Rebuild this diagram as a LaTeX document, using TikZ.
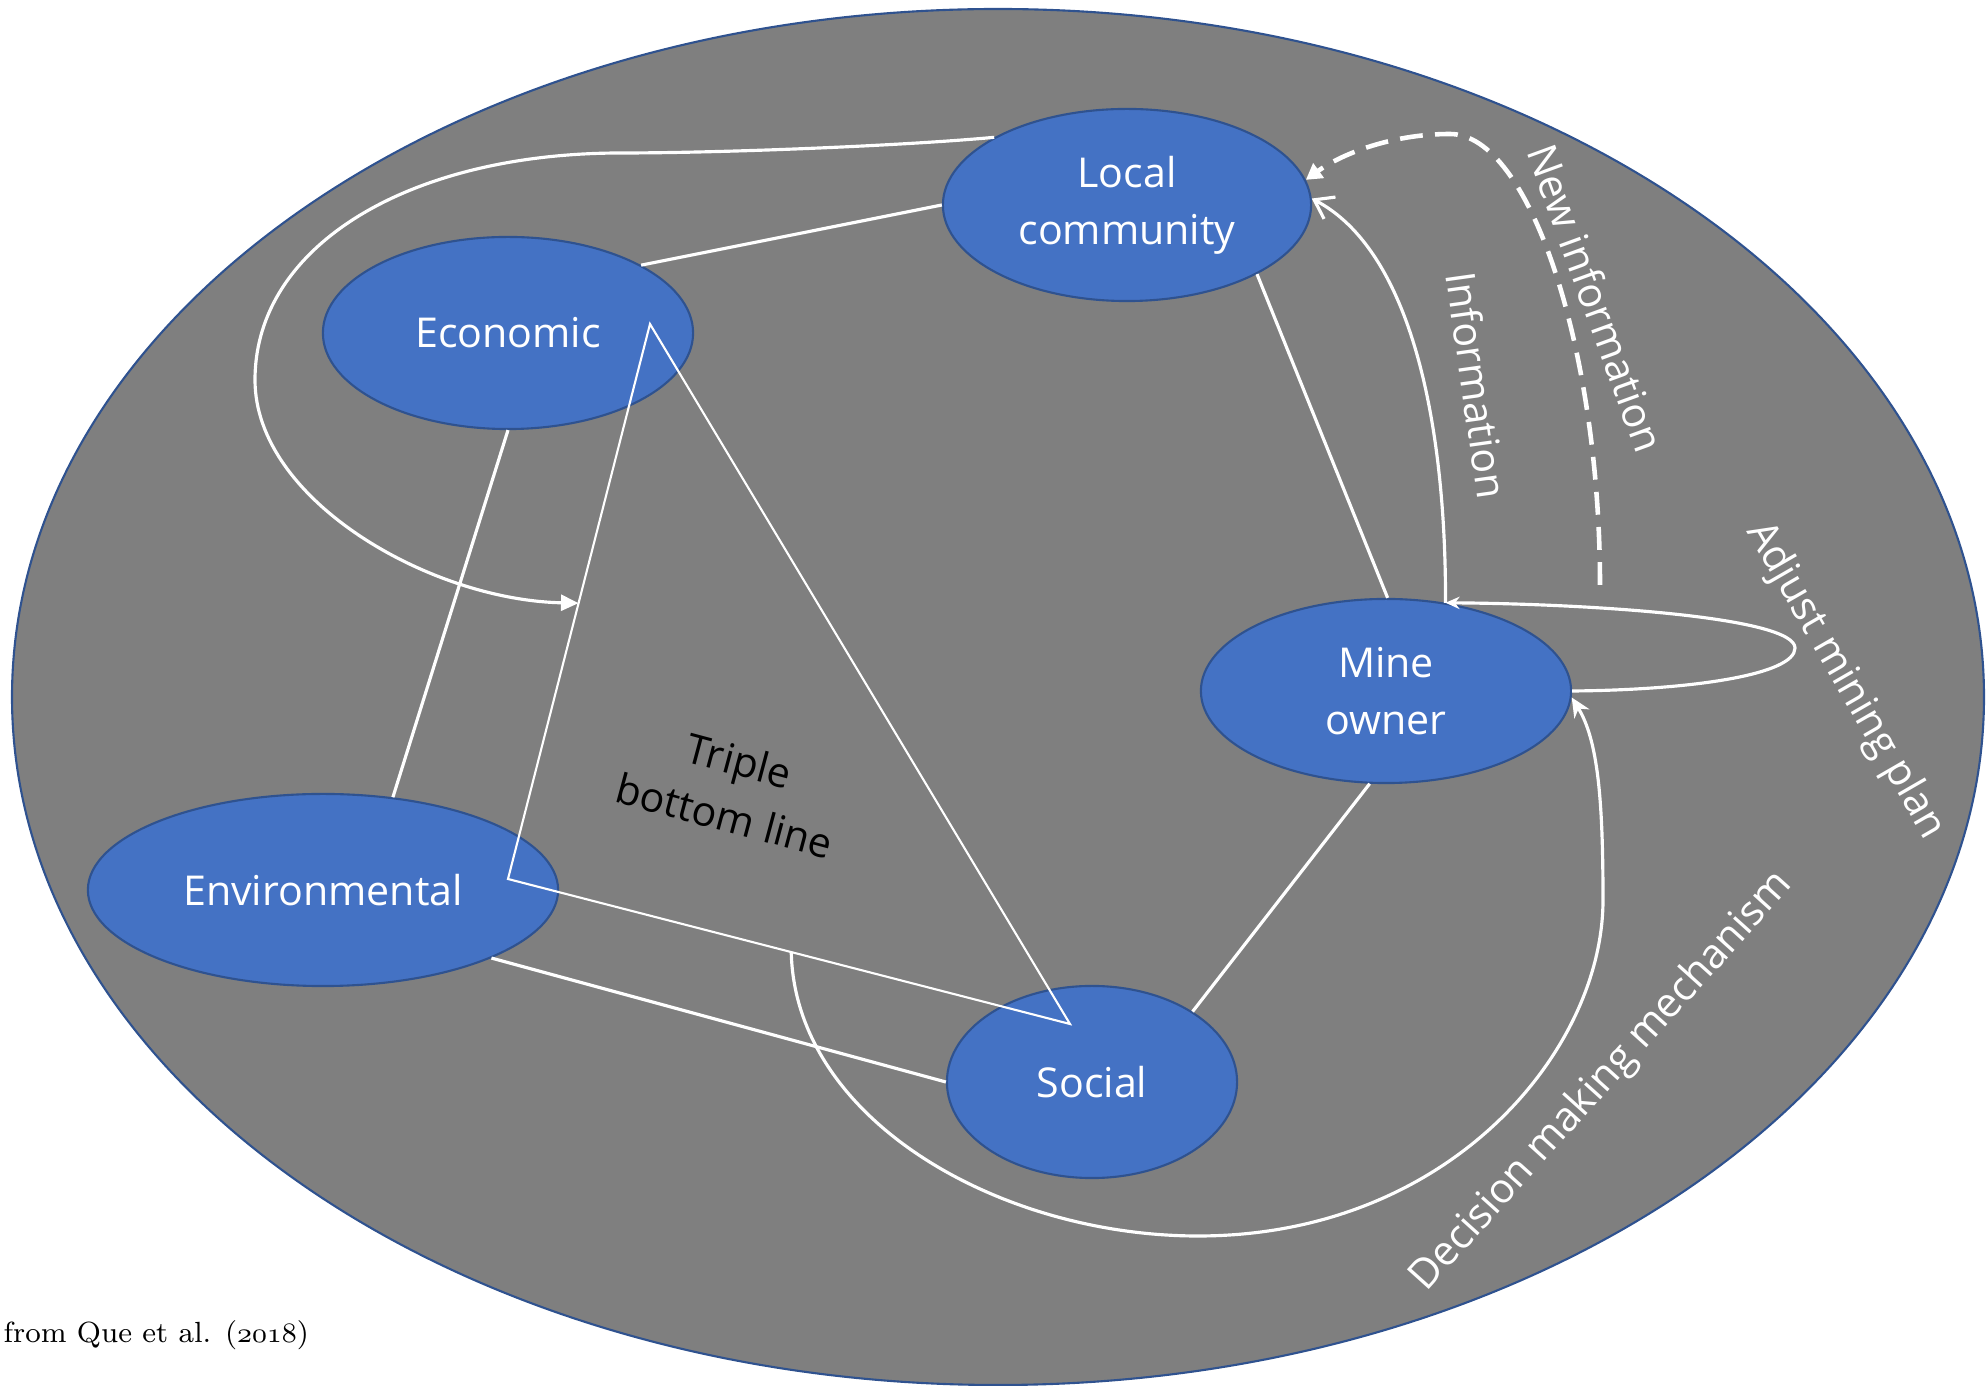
\documentclass[tikz,border=0pt]{standalone}
\usepackage{fontspec}
\setsansfont{Open Sans}
\usetikzlibrary{shapes.geometric,arrows.meta,calc}
\definecolor{panel}{RGB}{127,127,127}
\definecolor{nodefill}{HTML}{4472C4}
\definecolor{nodeedge}{HTML}{2F528F}
\newcommand{\labelfont}{\sffamily\fontsize{11.7}{16.2}\selectfont}
\begin{document}
\begin{tikzpicture}[x=0.01cm,y=-0.01cm,
  actor/.style={ellipse, draw=nodeedge, line width=0.6pt, fill=nodefill,
    inner sep=0pt, text=white, font=\labelfont, align=center},
  link/.style={draw=white, line width=0.9pt},
  thin link/.style={draw=white, line width=0.6pt},
  lbl/.style={text=white, font=\labelfont, inner sep=0pt}
]
\useasboundingbox (0,0) rectangle (1987,1386);

% background system boundary
\fill[panel, draw=nodeedge, line width=0.6pt] (998,697) ellipse [x radius=986, y radius=688];

% actors
\node[actor, minimum width=3.68cm, minimum height=1.92cm] (LC)  at (1127,205)  {Local\\community};
\node[actor, minimum width=3.70cm, minimum height=1.92cm] (Eco) at (508,333)   {Economic};
\node[actor, minimum width=3.70cm, minimum height=1.84cm] (MO)  at (1386,691)  {Mine\\owner};
\node[actor, minimum width=4.70cm, minimum height=1.92cm] (Env) at (323,890)   {Environmental};
\node[actor, minimum width=2.90cm, minimum height=1.92cm] (Soc) at (1092,1082) {Social};

% triple bottom line triangle
\coordinate (tA) at (650,324);
\coordinate (tB) at (508,879);
\coordinate (tC) at (1070,1024);
\draw[thin link] (tA) -- (tC) -- (tB) -- cycle;
\coordinate (tMid) at ($(tA)!0.503!(tB)$);
\coordinate (dmStart) at ($(tB)!0.504!(tC)$);

% relations between actors
\draw[link] (Eco.27) -- (LC.180);
\draw[link] (LC.-28) -- (MO.89);
\draw[link] (MO.-100) -- (Soc.35);
\draw[link] (Soc.180) -- (Env.-22);
\draw[link] (Env.53) -- (Eco.270);

% community feeds into the triple bottom line
\draw[link, -{Triangle[length=5pt,width=4.5pt]}]
  (LC.153) .. controls (900,146) and (720,153) .. (621,153)
  .. controls (410,153) and (255,245) .. (255,380)
  .. controls (255,500) and (430,600) .. (tMid);

% decision making mechanism
\draw[link, -{Stealth[length=5.5pt,width=5pt]}]
  (dmStart) .. controls (795,1120) and (1000,1236) .. (1198,1236)
  .. controls (1450,1236) and (1603,1050) .. (1603,900)
  .. controls (1603,800) and (1598,740) .. (MO.-2);

% information to the community
\draw[link, -{Straight Barb[length=5pt,width=7pt]}]
  (MO.56) .. controls (1446,420) and (1410,250) .. (LC.2);

% adjust mining plan loop
\draw[link, -{Stealth[length=4pt,width=3.5pt]}]
  (MO.0) .. controls (1690,690) and (1795,675) .. (1795,648)
  .. controls (1795,618) and (1600,604) .. (MO.56);

% new information (dashed)
\coordinate (niStart) at (1600,585);
\draw[white, line width=1.3pt, dash pattern=on 6.5pt off 3.5pt,
      -{Triangle[length=4.5pt,width=5pt]}]
  (niStart) .. controls (1600,350) and (1530,134) .. (1450,134)
  .. controls (1390,134) and (1340,155) .. (LC.8);

% labels
\node[lbl, rotate=-82] (info) at (1477,385) {Information};
\node[lbl, rotate=-70] (newinfo) at (1596,298) {New information};
\node[lbl, rotate=-60] (adjust) at (1845,681) {Adjust mining plan};
\node[lbl, rotate=48] (decision) at (1602,1082) {Decision making mechanism};
\node[text=black, font=\labelfont, inner sep=0pt, align=center, rotate=-15] (tbl) at (732,788) {Triple\\bottom line};
\node[anchor=base west, inner sep=0pt, font=\rmfamily\fontsize{8.3}{10}\selectfont] (src) at (3,1343)
  {from Que et al. ({\usefont{OML}{cmm}{m}{it}2018})};
\end{tikzpicture}
\end{document}
